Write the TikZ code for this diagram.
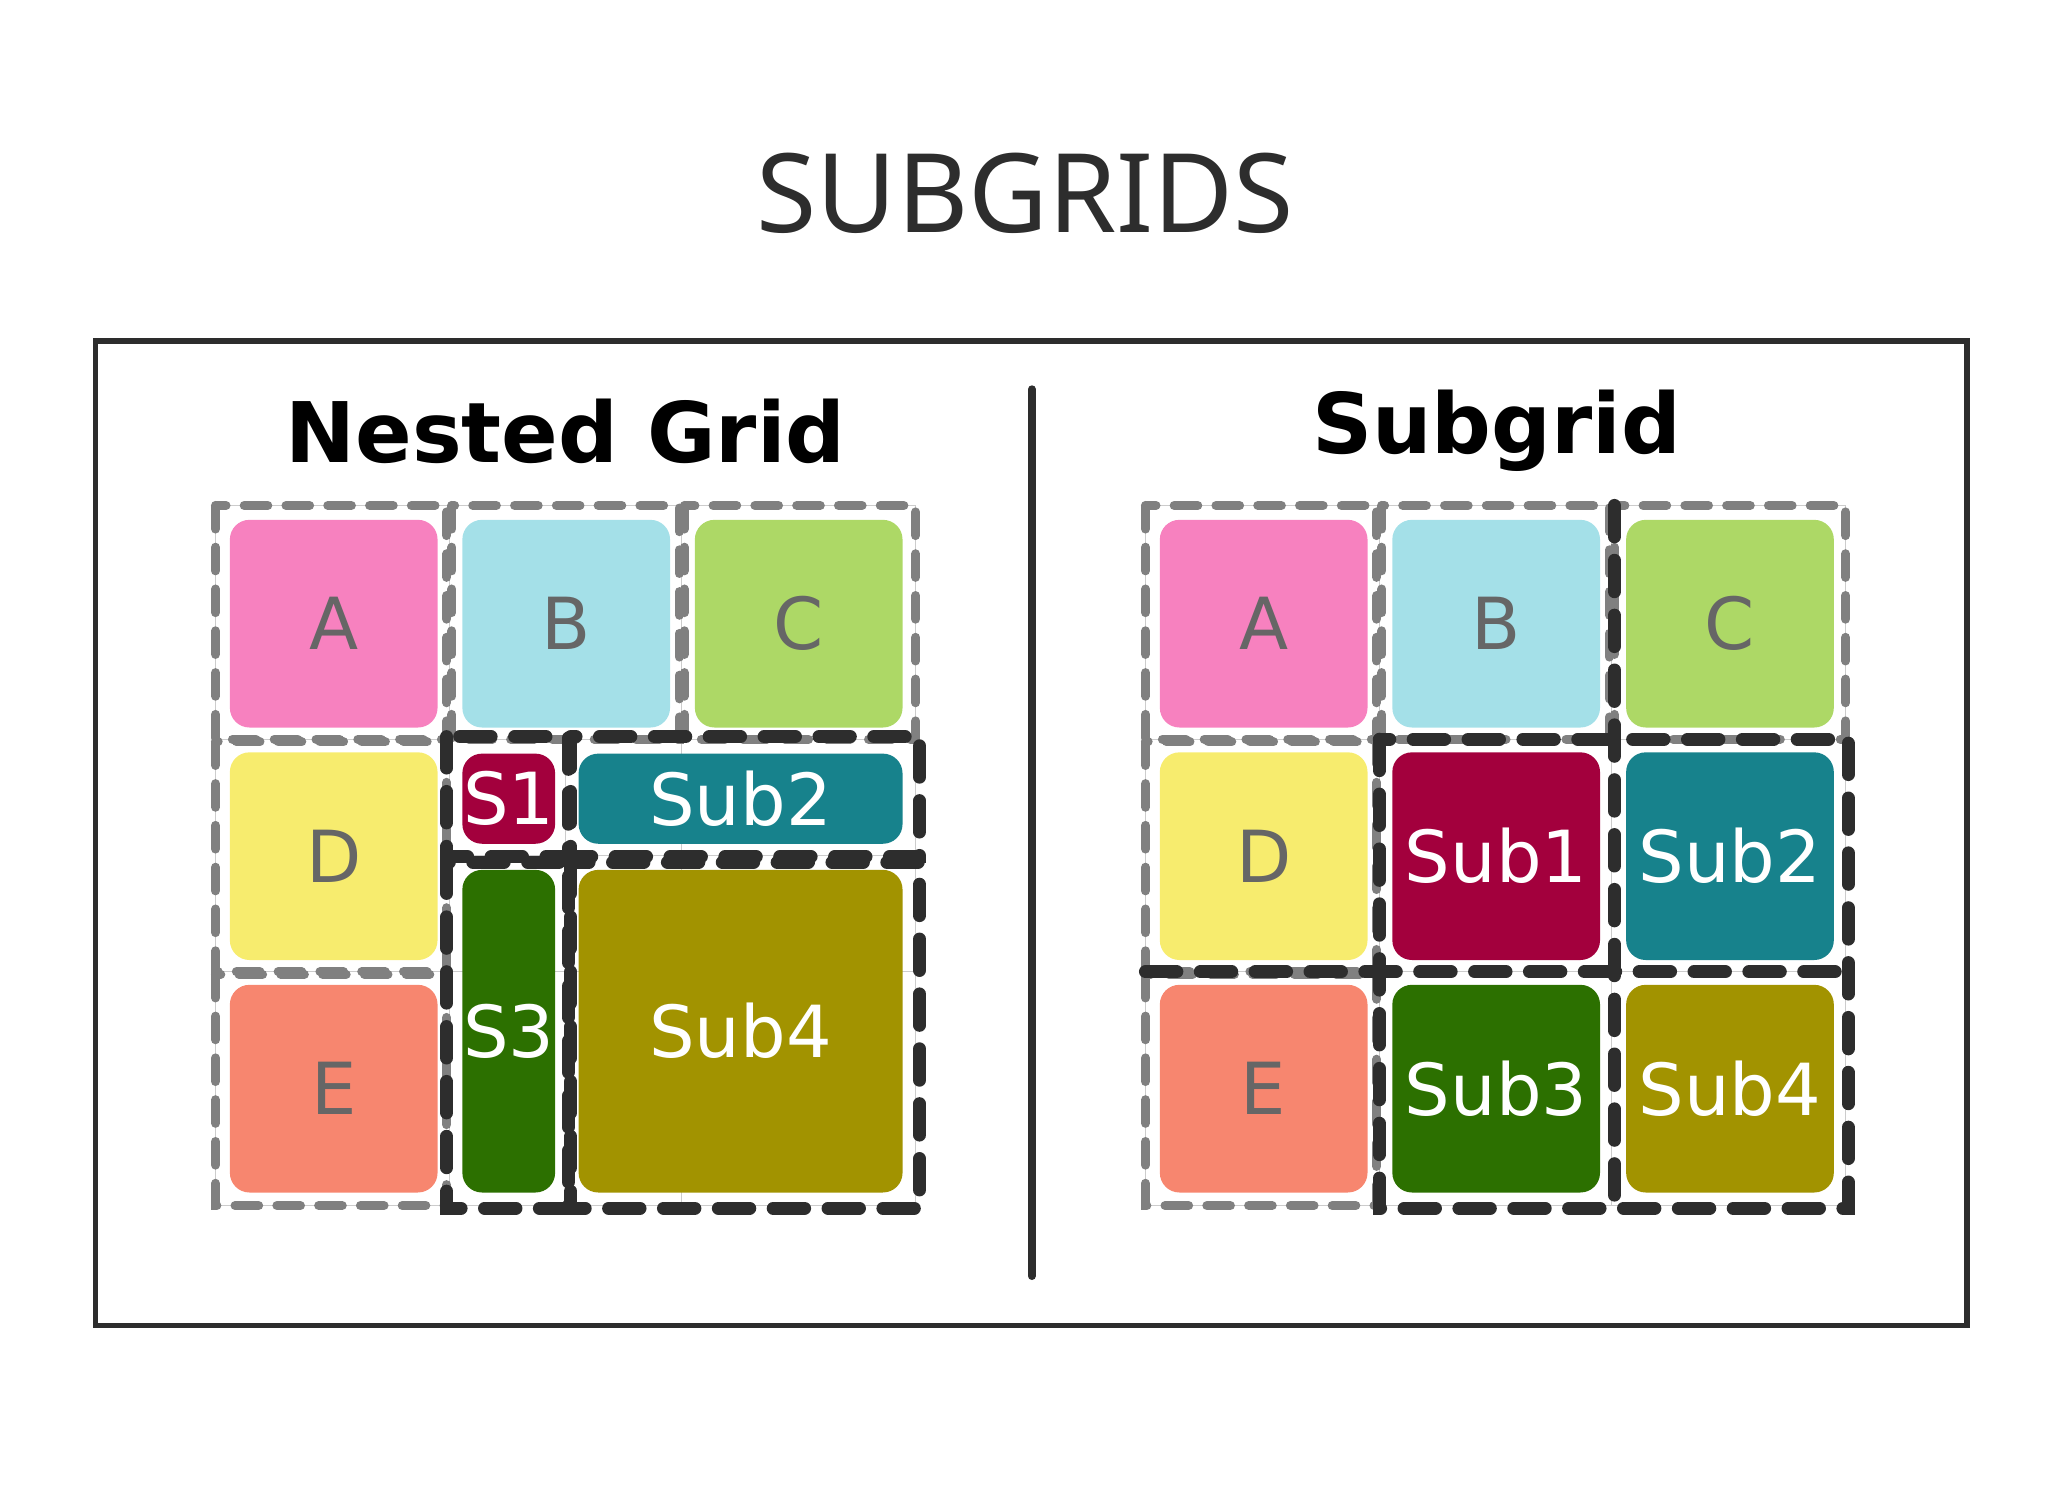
\documentclass[tikz,border=0pt]{standalone}
\usepackage{fontspec}
\setmainfont{DejaVu Sans}
\newfontfamily\titlefont{Noto Sans}
\definecolor{cA}{HTML}{F781BF}
\definecolor{cB}{HTML}{A4E0E8}
\definecolor{cC}{HTML}{ADD866}
\definecolor{cD}{HTML}{F7EC6E}
\definecolor{cE}{HTML}{F7866F}
\definecolor{s1}{HTML}{A3003D}
\definecolor{s2}{HTML}{17828C}
\definecolor{s3}{HTML}{2C7000}
\definecolor{s4}{HTML}{A29300}
\definecolor{ink}{HTML}{2D2D2D}
\tikzset{
 tile/.style={rounded corners=15pt, inner sep=0pt, font=\fontsize{55}{60}\selectfont},
 lt/.style={tile, text=black!60},
 dk/.style={tile, text=white},
 gdash/.style={draw=black!50, line width=7pt, dash pattern=on 18pt off 14pt, line cap=round},
 bdash/.style={draw=ink, line width=10pt, dash pattern=on 24pt off 18pt, line cap=round},
 gl/.style={draw=black!20, line width=1pt}
}
\begin{document}
\begin{tikzpicture}[x=1pt,y=-1pt]
\useasboundingbox (0,0) rectangle (1568,1142);
\node[font=\titlefont\fontsize{84}{90}\selectfont\bfseries, text=ink] (title) at (785,148) {SUBGRIDS};
\draw[ink, line width=4pt] (73,261) rectangle (1506,1015);
\coordinate (d1) at (790,298); \coordinate (d2) at (790,977);
\draw[ink, line width=6pt, line cap=round] (d1) -- (d2);
\node[font=\bfseries\fontsize{64}{70}\selectfont] (t1) at (433,330) {Nested Grid};
\node[font=\bfseries\fontsize{64}{70}\selectfont] (t2) at (1146,330) {Subgrid};
% ---------- left grid
\foreach \x in {165,344,522,701} \draw[gl] (\x,387) -- (\x,923);
\foreach \y in {387,566,744,923} \draw[gl] (165,\y) -- (701,\y);
\draw[gl] (433,566) -- (433,923);
\draw[gl] (344,655) -- (701,655);
\node[lt, fill=cA, minimum width=159pt, minimum height=159pt] (A1) at (255.5,477.5) {A};
\node[lt, fill=cB, minimum width=159pt, minimum height=159pt] (B1) at (433.5,477.5) {B};
\node[lt, fill=cC, minimum width=159pt, minimum height=159pt] (C1) at (611.5,477.5) {C};
\node[lt, fill=cD, minimum width=159pt, minimum height=159pt] (D1) at (255.5,655.5) {D};
\node[lt, fill=cE, minimum width=159pt, minimum height=159pt] (E1) at (255.5,833.5) {E};
\node[dk, fill=s1, minimum width=71pt, minimum height=69pt] (S1) at (389.5,611.5) {S1};
\node[dk, fill=s2, minimum width=248pt, minimum height=69pt] (S2) at (567,611.5) {Sub2};
\node[dk, fill=s3, minimum width=71pt, minimum height=247pt] (S3) at (389.5,789.5) {S3};
\node[dk, fill=s4, minimum width=248pt, minimum height=247pt] (S4) at (567,789.5) {Sub4};
\draw[gdash] (165,387) rectangle (342,566);
\draw[gdash] (346,387) rectangle (520,566);
\draw[gdash] (524,387) rectangle (701,566);
\draw[gdash] (165,568) rectangle (342,744);
\draw[gdash] (165,746) rectangle (342,923);
\draw[bdash] (342,564) rectangle (435,656);
\draw[bdash] (437,564) rectangle (704,656);
\draw[bdash] (342,660) rectangle (435,925);
\draw[bdash] (437,660) rectangle (704,925);
% ---------- right grid
\foreach \x in {877,1056,1234,1413} \draw[gl] (\x,387) -- (\x,923);
\foreach \y in {387,566,744,923} \draw[gl] (877,\y) -- (1413,\y);
\node[lt, fill=cA, minimum width=159pt, minimum height=159pt] (A2) at (967.5,477.5) {A};
\node[lt, fill=cB, minimum width=159pt, minimum height=159pt] (B2) at (1145.5,477.5) {B};
\node[lt, fill=cC, minimum width=159pt, minimum height=159pt] (C2) at (1324.5,477.5) {C};
\node[lt, fill=cD, minimum width=159pt, minimum height=159pt] (D2) at (967.5,655.5) {D};
\node[lt, fill=cE, minimum width=159pt, minimum height=159pt] (E2) at (967.5,833.5) {E};
\node[dk, fill=s1, minimum width=159pt, minimum height=159pt] (U1) at (1145.5,655.5) {Sub1};
\node[dk, fill=s2, minimum width=159pt, minimum height=159pt] (U2) at (1324.5,655.5) {Sub2};
\node[dk, fill=s3, minimum width=159pt, minimum height=159pt] (U3) at (1145.5,833.5) {Sub3};
\node[dk, fill=s4, minimum width=159pt, minimum height=159pt] (U4) at (1324.5,833.5) {Sub4};
\draw[gdash] (877,387) rectangle (1054,566);
\draw[gdash] (1058,387) rectangle (1232,566);
\draw[gdash] (1236,387) rectangle (1413,566);
\draw[gdash] (877,568) rectangle (1054,744);
\draw[gdash] (877,746) rectangle (1054,923);
\draw[bdash] (1236,387) -- (1236,923);
\draw[bdash] (877,744) -- (1413,744);
\draw[bdash] (1056,566) rectangle (1415,925);
\end{tikzpicture}
\end{document}
